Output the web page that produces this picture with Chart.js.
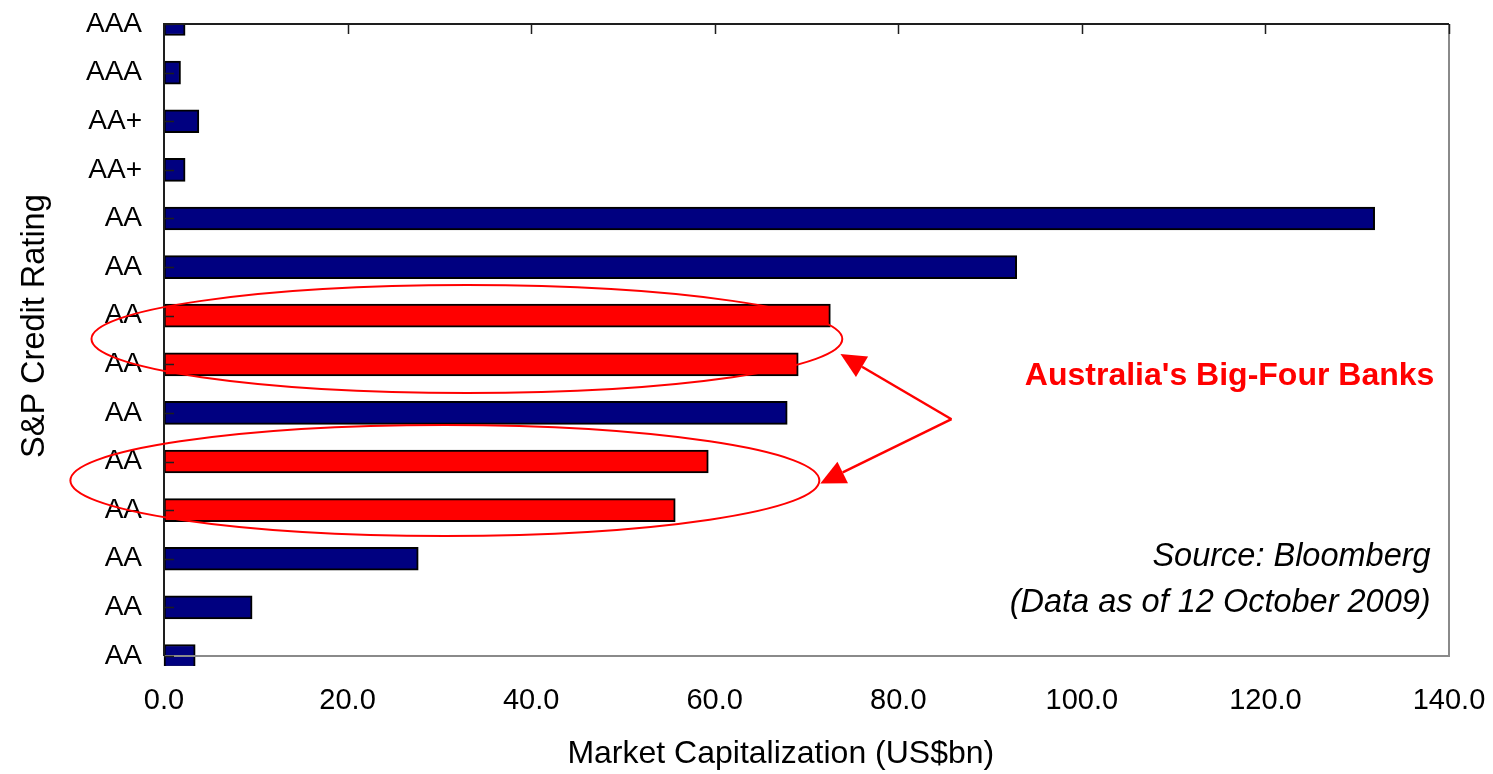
<!DOCTYPE html>
<html>
<head>
<meta charset="utf-8">
<title>Market Capitalization vs S&amp;P Credit Rating</title>
<script src="https://cdn.jsdelivr.net/npm/chart.js@4/dist/chart.umd.min.js"></script>
<style>
  html, body { margin: 0; padding: 0; background: #ffffff; }
  #wrap { width: 1493px; height: 774px; position: relative; }
</style>
</head>
<body>
<div id="wrap"><canvas id="chart"></canvas></div>
<script>
// Banks ordered top to bottom, with their S&P rating and market cap (US$bn)
const ratings   = ['AAA', 'AAA', 'AA+', 'AA+', 'AA', 'AA', 'AA', 'AA', 'AA', 'AA', 'AA', 'AA', 'AA', 'AA'];
const marketCap = [2.3, 1.8, 3.8, 2.3, 131.9, 92.9, 72.6, 69.1, 67.9, 59.3, 55.7, 27.7, 9.6, 3.4];
const bigFour   = [false, false, false, false, false, false, true, true, false, true, true, false, false, false];
const capTicks  = [0, 20, 40, 60, 80, 100, 120, 140];

const xTitle = 'Market Capitalization (US$bn)';
const yTitle = 'S&P Credit Rating';

const NAVY = '#000080';
const RED = '#ff0000';
const FONT = '"Liberation Sans", Arial, sans-serif';

// Callouts, placed in data units (x = US$bn, row = category index)
const rings = [
  { cx: 33.0, rx: 40.9, row: 6.48, rowR: 1.11 },
  { cx: 30.6, rx: 40.8, row: 9.39, rowR: 1.14 }
];
const arrowFrom = { x: 85.8, row: 8.13 };
const arrowTips = [ { x: 73.7, row: 6.79 }, { x: 71.5, row: 9.45 } ];
const notes = [
  { text: "Australia's Big-Four Banks", x: 138.4, row: 7.24, font: 'bold 32px ' + FONT, color: RED },
  { text: 'Source: Bloomberg', x: 138.0, row: 10.97, font: 'italic 32.5px ' + FONT, color: '#000000' },
  { text: '(Data as of 12 October 2009)', x: 138.0, row: 11.9, font: 'italic 32.5px ' + FONT, color: '#000000' }
];

const frameAndCallouts = {
  id: 'frameAndCallouts',
  afterDatasetsDraw(chart) {
    const { ctx, chartArea: a, scales: { x, y } } = chart;
    ctx.save();

    // plot-area outline (right and bottom)
    ctx.lineWidth = 2;
    ctx.strokeStyle = '#8a8a8a';
    ctx.beginPath();
    ctx.moveTo(a.right, a.top);
    ctx.lineTo(a.right, a.bottom);
    ctx.lineTo(a.left, a.bottom);
    ctx.stroke();

    // axis lines (left and top)
    ctx.strokeStyle = '#1e1e1e';
    ctx.beginPath();
    ctx.moveTo(a.left, a.bottom);
    ctx.lineTo(a.left, a.top);
    ctx.lineTo(a.right, a.top);
    ctx.stroke();

    // inward tick marks
    ctx.lineWidth = 1.5;
    ctx.beginPath();
    x.ticks.forEach(t => {
      const px = Math.round(x.getPixelForValue(t.value)) + 0.5;
      ctx.moveTo(px, a.top);
      ctx.lineTo(px, a.top + 10);
    });
    y.ticks.forEach((t, i) => {
      const py = Math.round(y.getPixelForTick(i)) + 0.5;
      ctx.moveTo(a.left, py);
      ctx.lineTo(a.left + 10, py);
    });
    ctx.stroke();

    // ellipses around the Big-Four bars
    ctx.strokeStyle = RED;
    ctx.lineWidth = 2;
    rings.forEach(r => {
      const cx = x.getPixelForValue(r.cx);
      const rx = x.getPixelForValue(r.cx + r.rx) - cx;
      const cy = y.getPixelForValue(r.row);
      const ry = y.getPixelForValue(r.row + r.rowR) - cy;
      ctx.beginPath();
      ctx.ellipse(cx, cy, rx, ry, 0, 0, Math.PI * 2);
      ctx.stroke();
    });

    // arrows from the label towards both ellipses
    const fx = x.getPixelForValue(arrowFrom.x);
    const fy = y.getPixelForValue(arrowFrom.row);
    ctx.fillStyle = RED;
    ctx.lineWidth = 2.5;
    arrowTips.forEach(tip => {
      const tx = x.getPixelForValue(tip.x);
      const ty = y.getPixelForValue(tip.row);
      const ang = Math.atan2(ty - fy, tx - fx);
      const len = 25, half = 12;
      const bx = tx - Math.cos(ang) * len;
      const by = ty - Math.sin(ang) * len;
      ctx.beginPath();
      ctx.moveTo(fx, fy);
      ctx.lineTo(bx, by);
      ctx.stroke();
      ctx.beginPath();
      ctx.moveTo(tx, ty);
      ctx.lineTo(bx - Math.sin(ang) * half, by + Math.cos(ang) * half);
      ctx.lineTo(bx + Math.sin(ang) * half, by - Math.cos(ang) * half);
      ctx.closePath();
      ctx.fill();
    });

    // text notes
    ctx.textAlign = 'right';
    ctx.textBaseline = 'middle';
    notes.forEach(n => {
      ctx.font = n.font;
      ctx.fillStyle = n.color;
      ctx.fillText(n.text, x.getPixelForValue(n.x), y.getPixelForValue(n.row));
    });

    // axis titles
    ctx.fillStyle = '#000000';
    ctx.font = '32px ' + FONT;
    ctx.textAlign = 'center';
    ctx.fillText(xTitle, a.left + a.width * 0.48, a.bottom + 98);
    ctx.translate(35, a.top + a.height * 0.478);
    ctx.rotate(-Math.PI / 2);
    ctx.font = '32.5px ' + FONT;
    ctx.fillText(yTitle, 0, 0);

    ctx.restore();
  }
};

new Chart(document.getElementById('chart'), {
  type: 'bar',
  data: {
    labels: ratings,
    datasets: [{
      data: marketCap,
      backgroundColor: bigFour.map(b => b ? RED : NAVY),
      borderColor: '#000000',
      borderWidth: 2,
      borderSkipped: false,
      barThickness: 23,
      clip: { left: 4, top: 0, right: 4, bottom: 10 }
    }]
  },
  options: {
    indexAxis: 'y',
    responsive: true,
    maintainAspectRatio: false,
    animation: false,
    layout: { padding: { top: 24, right: 44, left: 0, bottom: 0 } },
    plugins: { legend: { display: false }, tooltip: { enabled: false } },
    scales: {
      x: {
        type: 'linear',
        min: capTicks[0],
        max: capTicks[capTicks.length - 1],
        afterBuildTicks: s => { s.ticks = capTicks.map(v => ({ value: v })); },
        afterFit: s => { s.height = 118; s.paddingLeft = 0; s.paddingRight = 0; },
        grid: { display: false, drawTicks: false },
        border: { display: false },
        ticks: {
          padding: 28,
          color: '#000000',
          font: { family: FONT, size: 29 },
          callback: v => Number(v).toFixed(1)
        }
      },
      y: {
        type: 'category',
        offset: false,
        afterFit: s => { s.width = 164; s.paddingTop = 0; s.paddingBottom = 0; },
        grid: { display: false, drawTicks: false },
        border: { display: false },
        ticks: {
          padding: 22,
          color: '#000000',
          autoSkip: false,
          font: { family: FONT, size: 28 }
        }
      }
    }
  },
  plugins: [frameAndCallouts]
});
</script>
</body>
</html>
